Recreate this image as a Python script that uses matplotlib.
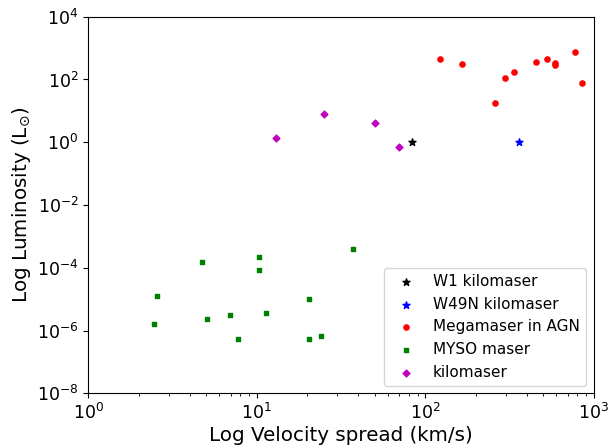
import matplotlib
matplotlib.use('Agg')
import matplotlib.pyplot as plt

# values (km/s, L_sun)
w1_v = [83.8]
w1_L = [1.0]
w49n_v = [359]
w49n_L = [1.0]

agn_v = [123, 165, 258, 296, 336, 456, 526, 590, 590, 774, 849]
agn_L = [458, 315, 17.9, 109, 174, 365, 458, 340, 293, 733, 74.8]

myso_v = [2.44, 2.56, 4.72, 5.06, 6.98, 7.73, 10.3, 10.3, 11.4, 20.5, 20.5, 23.9, 37.4]
myso_L = [1.58e-6, 1.24e-5, 1.55e-4, 2.28e-6, 3.05e-6, 5.3e-7, 2.22e-4, 8.4e-5,
          3.5e-6, 1.0e-5, 5.3e-7, 6.5e-7, 4.0e-4]

kilo_v = [12.97, 24.9, 50.0, 69.7]
kilo_L = [1.35, 8.2, 4.2, 0.69]

fig = plt.figure(figsize=(6.11, 4.47), dpi=100)
ax = fig.add_axes([88.3/611, 1-393.3/447, (593.7-88.3)/611, (393.3-16.7)/447])

ax.scatter(w1_v, w1_L, marker='*', s=28, c='k', label='W1 kilomaser')
ax.scatter(w49n_v, w49n_L, marker='*', s=28, c='b', label='W49N kilomaser')
ax.scatter(agn_v, agn_L, marker='o', s=14, c='r', label='Megamaser in AGN')
ax.scatter(myso_v, myso_L, marker='s', s=9, c='g', label='MYSO maser')
ax.scatter(kilo_v, kilo_L, marker='D', s=12, c='m', label='kilomaser')

ax.set_xscale('log')
ax.set_yscale('log')
ax.set_xlim(1, 1e3)
ax.set_ylim(1e-8, 1e4)
ax.set_yticks([1e-8, 1e-6, 1e-4, 1e-2, 1e0, 1e2, 1e4])
ax.tick_params(labelsize=12.5)
ax.set_xlabel('Log Velocity spread (km/s)', fontsize=14.3, labelpad=2)
ax.set_ylabel(r'Log Luminosity (L$_{\odot}$)', fontsize=14.3, labelpad=3)
ax.legend(loc='lower right', fontsize=11)

fig.savefig('out.png', dpi=100)
